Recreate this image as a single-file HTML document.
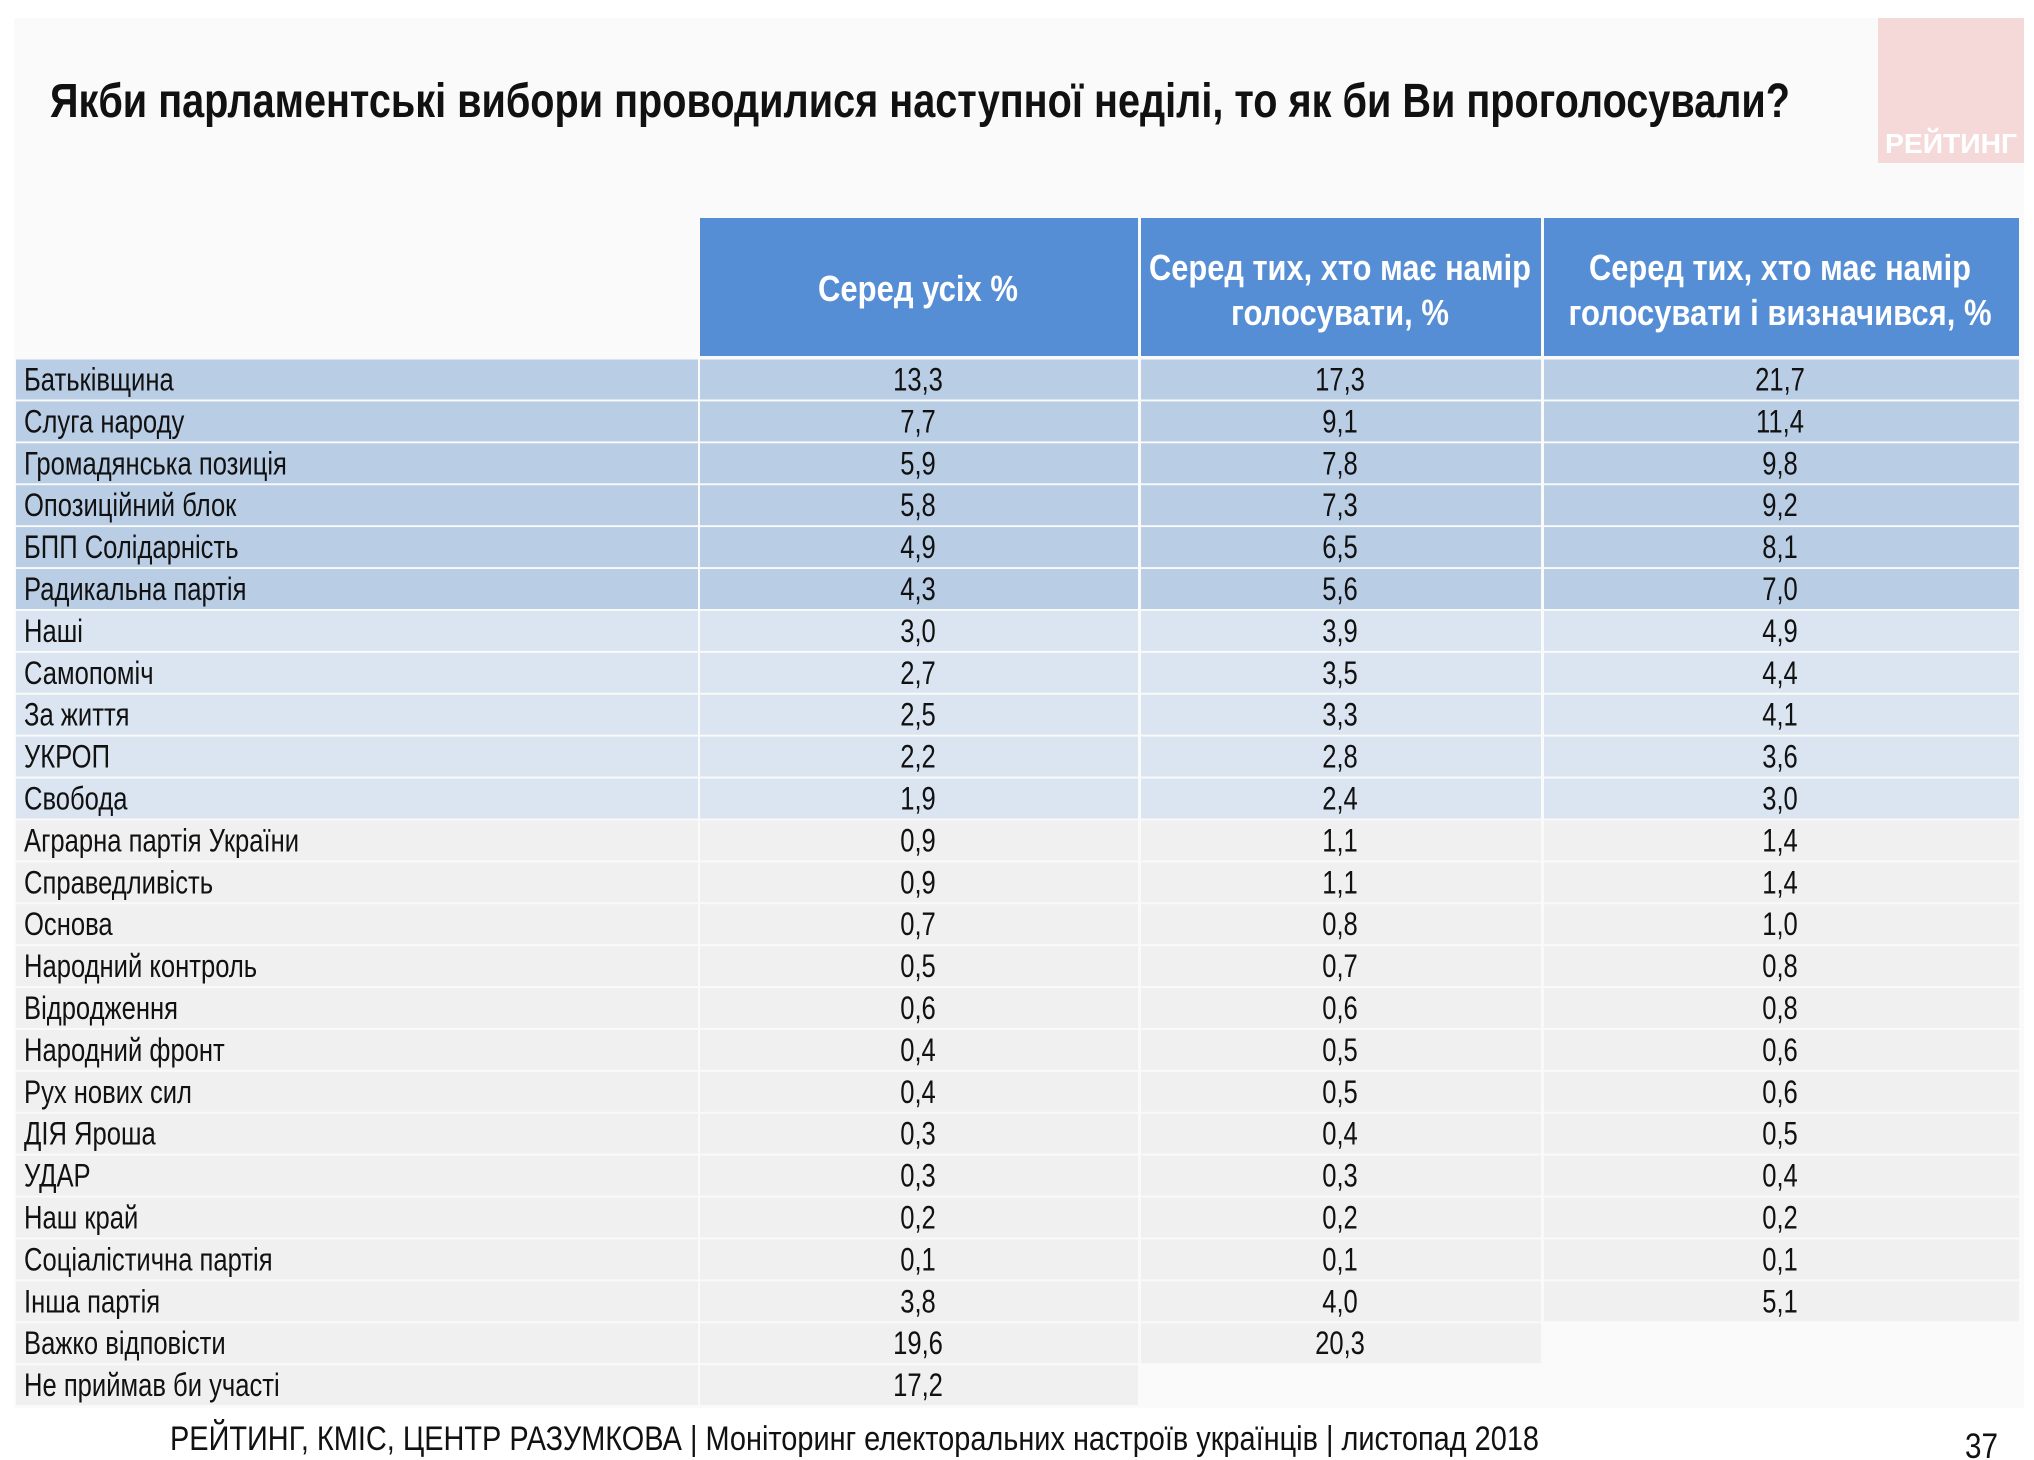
<!DOCTYPE html>
<html><head><meta charset="utf-8"><style>
html,body{margin:0;padding:0;background:#fff}
svg{display:block}
text{font-family:"Liberation Sans",sans-serif}
</style></head><body>
<svg width="2034" height="1460" xmlns="http://www.w3.org/2000/svg">
<rect x="0" y="0" width="2034" height="1460" fill="#ffffff"/>
<rect x="14" y="18" width="2010" height="1390" fill="#fafafa"/>
<rect x="1878" y="18" width="146" height="145" fill="#f5d9d9"/>
<text x="1951" y="153" font-size="28" font-weight="bold" fill="#ffffff" text-anchor="middle" textLength="132" lengthAdjust="spacingAndGlyphs">РЕЙТИНГ</text>
<text x="50" y="117" font-size="48" font-weight="bold" fill="#111" textLength="1740" lengthAdjust="spacingAndGlyphs">Якби парламентські вибори проводилися наступної неділі, то як би Ви проголосували?</text>
<rect x="700" y="218" width="438" height="138" fill="#558ed5"/>
<rect x="1141" y="218" width="400" height="138" fill="#558ed5"/>
<rect x="1544" y="218" width="475" height="138" fill="#558ed5"/>
<g fill="#fff" font-weight="bold" font-size="36" text-anchor="middle">
<text x="918" y="301" textLength="200" lengthAdjust="spacingAndGlyphs">Серед усіх %</text>
<text x="1340" y="280" textLength="382" lengthAdjust="spacingAndGlyphs">Серед тих, хто має намір</text>
<text x="1340" y="325" textLength="218" lengthAdjust="spacingAndGlyphs">голосувати, %</text>
<text x="1780" y="280" textLength="382" lengthAdjust="spacingAndGlyphs">Серед тих, хто має намір</text>
<text x="1780" y="325" textLength="423" lengthAdjust="spacingAndGlyphs">голосувати і визначився, %</text>
</g>
<g id="rows" font-size="32" fill="#111"></g>
<text x="170" y="1450" font-size="34" fill="#111" textLength="1369" lengthAdjust="spacingAndGlyphs">РЕЙТИНГ, КМІС, ЦЕНТР РАЗУМКОВА |  Моніторинг електоральних настроїв українців | листопад 2018</text>
<text x="1965" y="1458" font-size="35" fill="#111" textLength="33" lengthAdjust="spacingAndGlyphs">37</text>
</svg>
<script>
var d=[["Батьківщина","13,3","17,3","21,7"],["Слуга народу","7,7","9,1","11,4"],["Громадянська позиція","5,9","7,8","9,8"],["Опозиційний блок","5,8","7,3","9,2"],["БПП Солідарність","4,9","6,5","8,1"],["Радикальна партія","4,3","5,6","7,0"],["Наші","3,0","3,9","4,9"],["Самопоміч","2,7","3,5","4,4"],["За життя","2,5","3,3","4,1"],["УКРОП","2,2","2,8","3,6"],["Свобода","1,9","2,4","3,0"],["Аграрна партія України","0,9","1,1","1,4"],["Справедливість","0,9","1,1","1,4"],["Основа","0,7","0,8","1,0"],["Народний контроль","0,5","0,7","0,8"],["Відродження","0,6","0,6","0,8"],["Народний фронт","0,4","0,5","0,6"],["Рух нових сил","0,4","0,5","0,6"],["ДІЯ Яроша","0,3","0,4","0,5"],["УДАР","0,3","0,3","0,4"],["Наш край","0,2","0,2","0,2"],["Соціалістична партія","0,1","0,1","0,1"],["Інша партія","3,8","4,0","5,1"],["Важко відповісти","19,6","20,3",null],["Не приймав би участі","17,2",null,null]];
var g=document.getElementById("rows"),s="";
var cols=[[16,682],[700,438],[1141,400],[1544,475]],cx=[918,1340,1780];
d.forEach(function(r,i){var c=379.5+41.9*i,t=c-20;var f=i<6?"#b9cde5":(i<11?"#dbe5f1":"#f0f0f0");
for(var k=0;k<4;k++){if(k>0&&r[k]===null)continue;s+='<rect x="'+cols[k][0]+'" y="'+t+'" width="'+cols[k][1]+'" height="40" fill="'+f+'"/>';}
s+='<text transform="translate(24,'+(c+11)+') scale(0.8,1)">'+r[0]+'</text>';
for(var k=1;k<4;k++){if(r[k]!==null)s+='<text transform="translate('+cx[k-1]+','+(c+11)+') scale(0.8,1)" text-anchor="middle">'+r[k]+'</text>';}});
g.innerHTML=s;
</script>
</body></html>
